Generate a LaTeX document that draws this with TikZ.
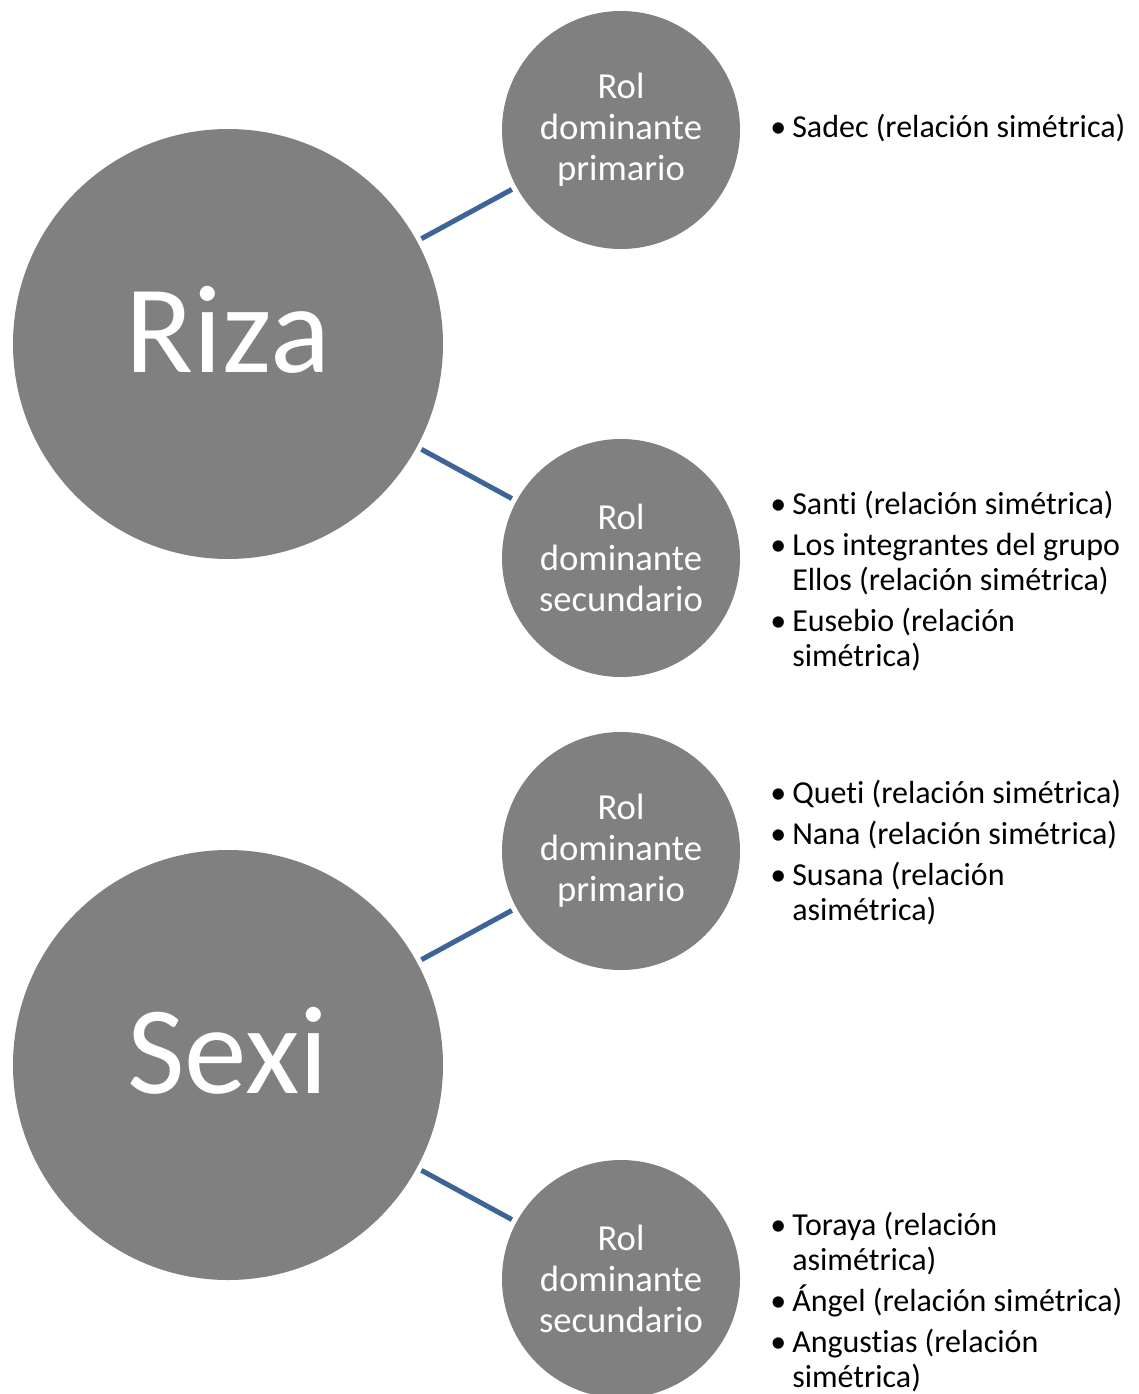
\documentclass[tikz,border=0pt]{standalone}
\usepackage{fontspec}
\setmainfont{Carlito}[Ligatures=NoCommon]
\usetikzlibrary{shapes}

\definecolor{gris}{RGB}{128,128,128}
\definecolor{azulcon}{RGB}{60,100,150}

\newcommand{\bala}{\makebox[16.5pt][l]{•}}
\newcommand{\sangria}{\hspace*{16.5pt}}

\tikzset{
  grande/.style={circle, fill=gris, draw=none, minimum size=322.5pt, inner sep=0pt,
    text=white, font=\fontsize{94pt}{94pt}\selectfont, text height=62pt, text depth=19pt},
  rol/.style={circle, fill=gris, draw=none, minimum size=178.5pt, inner sep=0pt,
    text=white, align=center, font=\fontsize{27.5pt}{30.75pt}\selectfont},
  lista/.style={anchor=base west, inner sep=0pt, align=left,
    font=\fontsize{24pt}{26.25pt}\selectfont},
  conector/.style={draw=azulcon, line width=3.75pt, shorten <=3.75pt, shorten >=3.75pt}
}

\begin{document}
\begin{tikzpicture}[x=0.75pt, y=-0.75pt]

\useasboundingbox (0,0) rectangle (1138,1394);

%Draw main circles
\node[grande] (riza) at (228, 344) {Riza};
\node[grande] (sexi) at (228, 1065) {Sexi};

%Draw role circles
\node[rol] (rizap) at (621, 130) {Rol\\dominante\\primario};
\node[rol] (rizas) at (621, 558) {Rol\\dominante\\secundario};
\node[rol] (sexip) at (621, 851) {Rol\\dominante\\primario};
\node[rol] (sexis) at (621, 1279) {Rol\\dominante\\secundario};

%Draw connectors
\draw[conector] (riza) -- (rizap);
\draw[conector] (riza) -- (rizas);
\draw[conector] (sexi) -- (sexip);
\draw[conector] (sexi) -- (sexis);

%Draw lists (placed at the baseline of their last line)
\node[lista] (lrizap) at (770, 138) {\bala Sadec (relación simétrica)};

\node[lista] (lrizas) at (770, 666) {\bala Santi (relación simétrica)\\[4.5pt]
\bala Los integrantes del grupo\\
\sangria Ellos (relación simétrica)\\[4.5pt]
\bala Eusebio (relación\\
\sangria simétrica)};

\node[lista] (lsexip) at (770, 920) {\bala Queti (relación simétrica)\\[4.5pt]
\bala Nana (relación simétrica)\\[4.5pt]
\bala Susana (relación\\
\sangria asimétrica)};

\node[lista] (lsexis) at (770, 1387) {\bala Toraya (relación\\
\sangria asimétrica)\\[4.5pt]
\bala Ángel (relación simétrica)\\[4.5pt]
\bala Angustias (relación\\
\sangria simétrica)};

\end{tikzpicture}
\end{document}
